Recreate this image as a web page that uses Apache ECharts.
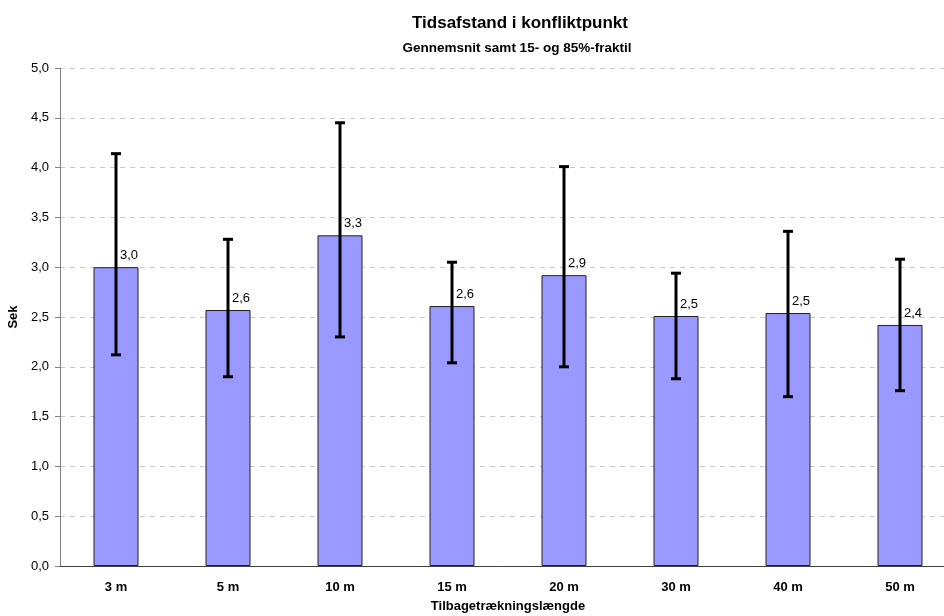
<!DOCTYPE html>
<html>
<head>
<meta charset="utf-8">
<script src="https://cdn.jsdelivr.net/npm/echarts@6/dist/echarts.min.js"></script>
<style>html,body{margin:0;padding:0;background:#fff;overflow:hidden}#c{width:944px;height:616px}</style>
</head>
<body>
<div id="c"></div>
<script>
const categories = ['3 m', '5 m', '10 m', '15 m', '20 m', '30 m', '40 m', '50 m'];
const meanValues = [3.00, 2.57, 3.32, 2.61, 2.92, 2.51, 2.54, 2.42];
const lowValues = [2.12, 1.90, 2.30, 2.04, 2.00, 1.88, 1.70, 1.76];
const highValues = [4.14, 3.28, 4.45, 3.05, 4.01, 2.94, 3.36, 3.08];

const fmt = v => v.toFixed(1).replace('.', ',');
const errData = categories.map((c, i) => [i, lowValues[i], highValues[i]]);
const FF = 'Liberation Sans, Arial, sans-serif';

const chart = echarts.init(document.getElementById('c'), null, {renderer: 'canvas'});
chart.setOption({
  animation: false,
  backgroundColor: '#ffffff',
  textStyle: {fontFamily: FF},
  title: [
    {text: 'Tidsafstand i konfliktpunkt', left: 515, top: 10, textAlign: 'center',
     textStyle: {fontSize: 17, fontWeight: 'bold', color: '#000', fontFamily: FF}},
    {text: 'Gennemsnit samt 15- og 85%-fraktil', left: 512, top: 36, textAlign: 'center',
     textStyle: {fontSize: 13.5, fontWeight: 'bold', color: '#000', fontFamily: FF}}
  ],
  grid: {left: 60, top: 68, width: 896, height: 498, containLabel: false, outerBoundsMode: 'none'},
  xAxis: {
    type: 'category',
    data: categories,
    name: 'Tilbagetrækningslængde',
    nameLocation: 'middle',
    nameGap: 34,
    nameTextStyle: {fontSize: 13, fontWeight: 'bold', color: '#000', fontFamily: FF},
    axisLine: {lineStyle: {color: '#404040', width: 1}},
    axisTick: {show: false},
    axisLabel: {fontSize: 13, fontWeight: 'bold', color: '#000', margin: 15, fontFamily: FF},
    splitLine: {show: false}
  },
  yAxis: {
    type: 'value',
    min: 0, max: 5, interval: 0.5,
    name: 'Sek',
    nameLocation: 'middle',
    nameGap: 38,
    nameRotate: 90,
    nameTextStyle: {fontSize: 13, fontWeight: 'bold', color: '#000', fontFamily: FF},
    axisLine: {show: true, lineStyle: {color: '#808080', width: 1}},
    axisTick: {show: true, length: 5, lineStyle: {color: '#808080'}},
    axisLabel: {fontSize: 13, color: '#000', margin: 11, formatter: v => fmt(v), fontFamily: FF},
    splitLine: {show: true, lineStyle: {color: '#c8c8c8', type: [5, 5], width: 1}}
  },
  series: [
    {
      type: 'bar',
      data: meanValues,
      barWidth: 45,
      itemStyle: {color: '#9999ff', borderColor: '#202020', borderWidth: 1},
      label: {
        show: true, position: 'top', offset: [13, 0],
        formatter: p => fmt(p.value),
        fontSize: 13, color: '#000', fontFamily: FF
      },
      z: 2
    },
    {
      type: 'custom',
      data: errData,
      z: 5,
      renderItem: (params, api) => {
        const x = api.value(0);
        const lo = api.coord([x, api.value(1)]);
        const hi = api.coord([x, api.value(2)]);
        const cap = 5;
        const st = {stroke: '#000', lineWidth: 3};
        return {
          type: 'group',
          children: [
            {type: 'line', shape: {x1: lo[0], y1: lo[1], x2: hi[0], y2: hi[1]}, style: st},
            {type: 'line', shape: {x1: lo[0] - cap, y1: lo[1], x2: lo[0] + cap, y2: lo[1]}, style: st},
            {type: 'line', shape: {x1: hi[0] - cap, y1: hi[1], x2: hi[0] + cap, y2: hi[1]}, style: st}
          ]
        };
      }
    }
  ]
});
</script>
</body>
</html>
